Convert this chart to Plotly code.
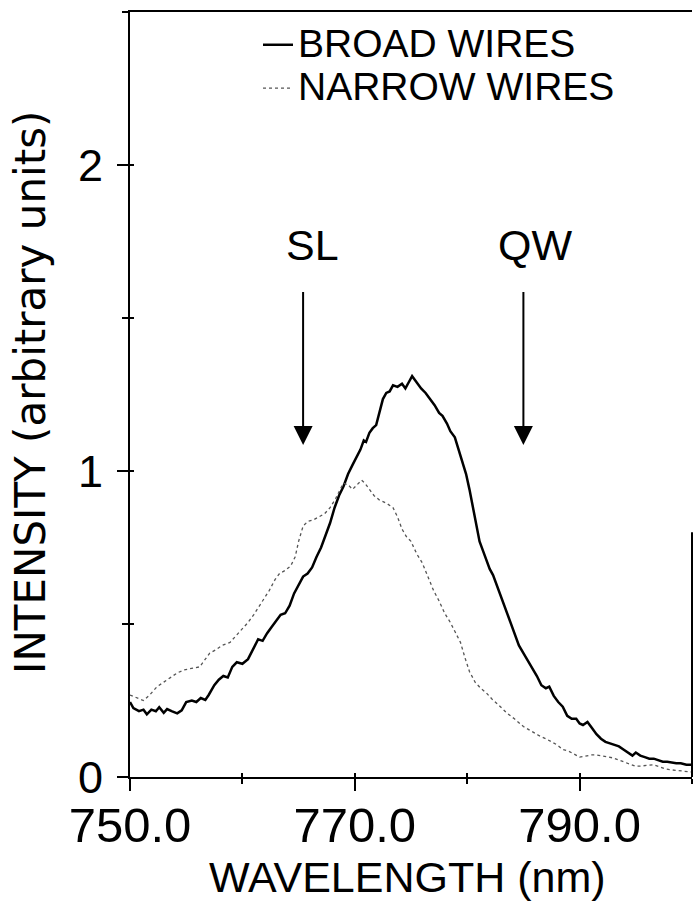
import plotly.graph_objects as go

# ---- data ----
broad_x = [750.0, 750.3, 750.8, 751.2, 751.5, 751.9, 752.3, 752.6, 753.0, 753.3, 753.7, 754.2, 754.6,
           755.0, 755.5, 755.9, 756.3, 756.7, 757.0, 757.5, 757.9, 758.3, 758.7, 759.1, 759.5, 760.0,
           760.5, 761.0, 761.4, 761.8, 762.2, 762.6, 763.0, 763.4, 763.8, 764.2, 764.6, 765.0, 765.4,
           765.8, 766.2, 766.6, 767.0, 767.4, 767.8, 768.2, 768.6, 769.0, 769.4, 769.8, 770.2, 770.5,
           770.8, 771.0, 771.3, 771.6, 771.9, 772.2, 772.5, 772.8, 773.1, 773.4, 773.8, 774.2, 774.5,
           774.8, 775.1, 775.3, 775.5, 775.9, 776.3, 776.7, 777.1, 777.5, 777.8, 778.2, 778.5, 778.9,
           779.2, 779.5, 779.9, 780.2, 780.5, 780.8, 781.1, 781.4, 781.7, 782.0, 782.3, 782.6, 783.0,
           783.4, 783.8, 784.2, 784.6, 785.0, 785.4, 785.8, 786.2, 786.6, 787.0, 787.3, 787.7, 788.1,
           788.5, 788.9, 789.3, 789.7, 790.0, 790.3, 790.7, 791.1, 791.5, 791.9, 792.3, 792.7, 793.1,
           793.5, 793.9, 794.3, 794.7, 795.0, 795.4, 795.8, 796.2, 796.6, 797.0, 797.4, 797.8, 798.2,
           798.6, 799.0, 799.5, 800.0]
broad_y = [0.245, 0.225, 0.215, 0.22, 0.205, 0.22, 0.215, 0.228, 0.21, 0.222, 0.215, 0.208, 0.218,
           0.245, 0.25, 0.245, 0.258, 0.252, 0.268, 0.3, 0.318, 0.33, 0.325, 0.36, 0.375, 0.37,
           0.385, 0.42, 0.45, 0.445, 0.47, 0.49, 0.51, 0.53, 0.535, 0.56, 0.6, 0.63, 0.655,
           0.665, 0.685, 0.72, 0.75, 0.79, 0.83, 0.88, 0.92, 0.95, 0.99, 1.02, 1.05, 1.07,
           1.1, 1.095, 1.125, 1.14, 1.15, 1.19, 1.235, 1.255, 1.26, 1.28, 1.275, 1.285, 1.27,
           1.29, 1.31, 1.3, 1.29, 1.27, 1.255, 1.235, 1.215, 1.19, 1.18, 1.155, 1.13, 1.11,
           1.075, 1.04, 0.99, 0.94, 0.88, 0.82, 0.77, 0.74, 0.71, 0.68, 0.66, 0.63, 0.59,
           0.55, 0.51, 0.47, 0.43, 0.405, 0.38, 0.355, 0.33, 0.3, 0.29, 0.295, 0.265, 0.245,
           0.23, 0.2, 0.19, 0.19, 0.175, 0.17, 0.18, 0.16, 0.14, 0.125, 0.115, 0.11, 0.105,
           0.1, 0.09, 0.08, 0.07, 0.08, 0.07, 0.065, 0.06, 0.06, 0.055, 0.05, 0.05, 0.047,
           0.045, 0.045, 0.04, 0.04]

narrow_x = [750.0, 750.5, 751.2, 751.8, 752.4, 753.0, 753.6, 754.2, 754.8, 755.5, 756.2, 756.7, 757.1,
            757.6, 758.2, 758.9, 759.5, 760.0, 760.5, 761.0, 761.5, 761.9, 762.4, 762.9, 763.3, 763.8,
            764.3, 764.7, 765.0, 765.4, 765.8, 766.3, 766.8, 767.3, 767.8, 768.3, 768.7, 769.0, 769.4,
            769.8, 770.2, 770.6, 770.9, 771.3, 771.7, 772.2, 772.8, 773.4, 773.8, 774.2, 774.6, 775.0,
            775.5, 776.0, 776.5, 777.0, 777.5, 778.0, 778.5, 779.0, 779.4, 779.8, 780.2, 780.7, 781.2,
            781.7, 782.2, 782.8, 783.5, 784.2, 785.0, 785.7, 786.4, 787.0, 787.5, 788.0, 788.5, 789.0,
            789.5, 790.0, 790.5, 791.0, 791.5, 792.0, 792.5, 793.0, 793.5, 794.0, 794.5, 795.0, 795.5,
            796.0, 796.5, 797.0, 797.5, 798.0, 798.5, 799.0, 799.5, 800.0]
narrow_y = [0.268, 0.26, 0.25, 0.27, 0.295, 0.31, 0.325, 0.34, 0.35, 0.355, 0.36, 0.385, 0.405,
            0.415, 0.43, 0.44, 0.465, 0.485, 0.505, 0.53, 0.56, 0.58, 0.61, 0.645, 0.665, 0.675,
            0.69, 0.72, 0.77, 0.82, 0.835, 0.84, 0.85, 0.86, 0.88, 0.91, 0.94, 0.96, 0.955,
            0.94, 0.955, 0.97, 0.96, 0.94, 0.92, 0.905, 0.895, 0.88, 0.85, 0.81, 0.785, 0.77,
            0.73, 0.7, 0.655, 0.61, 0.575, 0.535, 0.505, 0.47, 0.44, 0.39, 0.345, 0.31, 0.29,
            0.275, 0.255, 0.235, 0.21, 0.19, 0.165, 0.15, 0.135, 0.125, 0.115, 0.105, 0.09, 0.085,
            0.075, 0.065, 0.068, 0.072, 0.072, 0.07, 0.066, 0.062, 0.055, 0.048, 0.04, 0.035, 0.036,
            0.038, 0.04, 0.035, 0.028, 0.024, 0.022, 0.02, 0.018, 0.016]

series_names = ["BROAD WIRES", "NARROW WIRES"]
x_tick_vals = [750, 770, 790]
x_tick_text = ["750.0", "770.0", "790.0"]
y_tick_vals = [0, 1, 2]
y_tick_text = ["0", "1", "2"]
marker_labels = ["SL", "QW"]
marker_x = [765.4, 785.0]
marker_tip_y = [1.085, 1.085]
marker_tail_y = [1.59, 1.59]
label_x = [766.2, 786.0]
label_y = [1.74, 1.74]

FONT = "Liberation Sans"
WIDE_FONT = "DejaVu Sans"

fig = go.Figure()
fig.add_trace(go.Scatter(
    x=broad_x, y=broad_y, mode="lines",
    name='<span style="font-size:39px">' + series_names[0] + '</span>',
    line=dict(color="black", width=2.5)))
fig.add_trace(go.Scatter(
    x=narrow_x, y=narrow_y, mode="lines",
    name='<span style="font-size:39px">' + series_names[1] + '</span>',
    line=dict(color="#555555", width=1.3, dash="dot")))
# overlay axes for inward half of crossing ticks
fig.add_trace(go.Scatter(x=[], y=[], xaxis="x2", yaxis="y2", showlegend=False, hoverinfo="skip"))

for lab, mx, ty, tl, lx, ly in zip(marker_labels, marker_x, marker_tip_y, marker_tail_y, label_x, label_y):
    fig.add_annotation(x=mx, y=ty, ax=mx, ay=tl, xref="x", yref="y", axref="x", ayref="y",
                       text="", showarrow=True, arrowhead=2, arrowsize=1.9, arrowwidth=2,
                       arrowcolor="black")
    fig.add_annotation(x=lx, y=ly, xref="x", yref="y", text=lab, showarrow=False,
                       font=dict(family=FONT, size=43, color="black"))

fig.add_annotation(x=(407 - 130) / 562, y=(777 - 877) / 765, xref="paper", yref="paper",
                   text="WAVELENGTH (nm)", showarrow=False,
                   font=dict(family=FONT, size=43, color="black"),
                   xanchor="center", yanchor="middle")
fig.add_annotation(x=(30 - 130) / 562, y=(777 - 393) / 765, xref="paper", yref="paper",
                   text="INTENSITY (arbitrary units)", showarrow=False, textangle=-90,
                   font=dict(family=WIDE_FONT, size=42, color="black"),
                   xanchor="center", yanchor="middle")

# partial right border as seen in the scan
fig.add_shape(type="line", xref="paper", yref="paper", x0=1, x1=1, y0=0, y1=0.32,
              line=dict(color="black", width=2))

fig.update_layout(
    width=695, height=904,
    margin=dict(l=130, r=3, t=12, b=127),
    paper_bgcolor="white", plot_bgcolor="white",
    showlegend=True,
    legend=dict(x=(258 - 130) / 562, y=0.992, xanchor="left", yanchor="top",
                bgcolor="rgba(0,0,0,0)",
                font=dict(family=FONT, size=31, color="black"), tracegroupgap=0,
                itemwidth=30),
    xaxis=dict(range=[750, 800], tickmode="array", tickvals=x_tick_vals, ticktext=x_tick_text,
               ticks="outside", ticklen=12, tickwidth=2, tickcolor="black",
               ticklabelstandoff=-8,
               minor=dict(tickmode="linear", tick0=750, dtick=10, ticks="outside", ticklen=5,
                          tickwidth=1.5, tickcolor="black"),
               showline=True, linecolor="black", linewidth=2, mirror=True,
               showgrid=False, zeroline=False,
               tickfont=dict(family=FONT, size=49, color="black")),
    yaxis=dict(range=[0, 2.5], tickmode="array", tickvals=y_tick_vals, ticktext=y_tick_text,
               ticks="outside", ticklen=11, tickwidth=2, tickcolor="black",
               ticklabelstandoff=5,
               minor=dict(tickmode="linear", tick0=0, dtick=0.5, ticks="outside", ticklen=6,
                          tickwidth=1.5, tickcolor="black"),
               showline=True, linecolor="black", linewidth=2,
               showgrid=False, zeroline=False,
               tickfont=dict(family=FONT, size=45, color="black")),
    xaxis2=dict(range=[750, 800], overlaying="x", anchor="y2", side="bottom",
                tickmode="array", tickvals=x_tick_vals, ticktext=["", "", ""],
                ticks="inside", ticklen=5, tickwidth=2, tickcolor="black",
                minor=dict(tickmode="linear", tick0=750, dtick=10, ticks="inside", ticklen=4,
                           tickwidth=1.5, tickcolor="black"),
                showline=False, showgrid=False, zeroline=False, showticklabels=False),
    yaxis2=dict(range=[0, 2.5], overlaying="y", anchor="x2", side="left",
                tickmode="array", tickvals=y_tick_vals, ticktext=["", "", ""],
                ticks="inside", ticklen=9, tickwidth=2, tickcolor="black",
                minor=dict(tickmode="linear", tick0=0, dtick=0.5, ticks="inside", ticklen=4,
                           tickwidth=1.5, tickcolor="black"),
                showline=False, showgrid=False, zeroline=False, showticklabels=False),
)

fig.write_html("out.html", config={"displayModeBar": False},
               post_script="document.body.style.margin='0';")
